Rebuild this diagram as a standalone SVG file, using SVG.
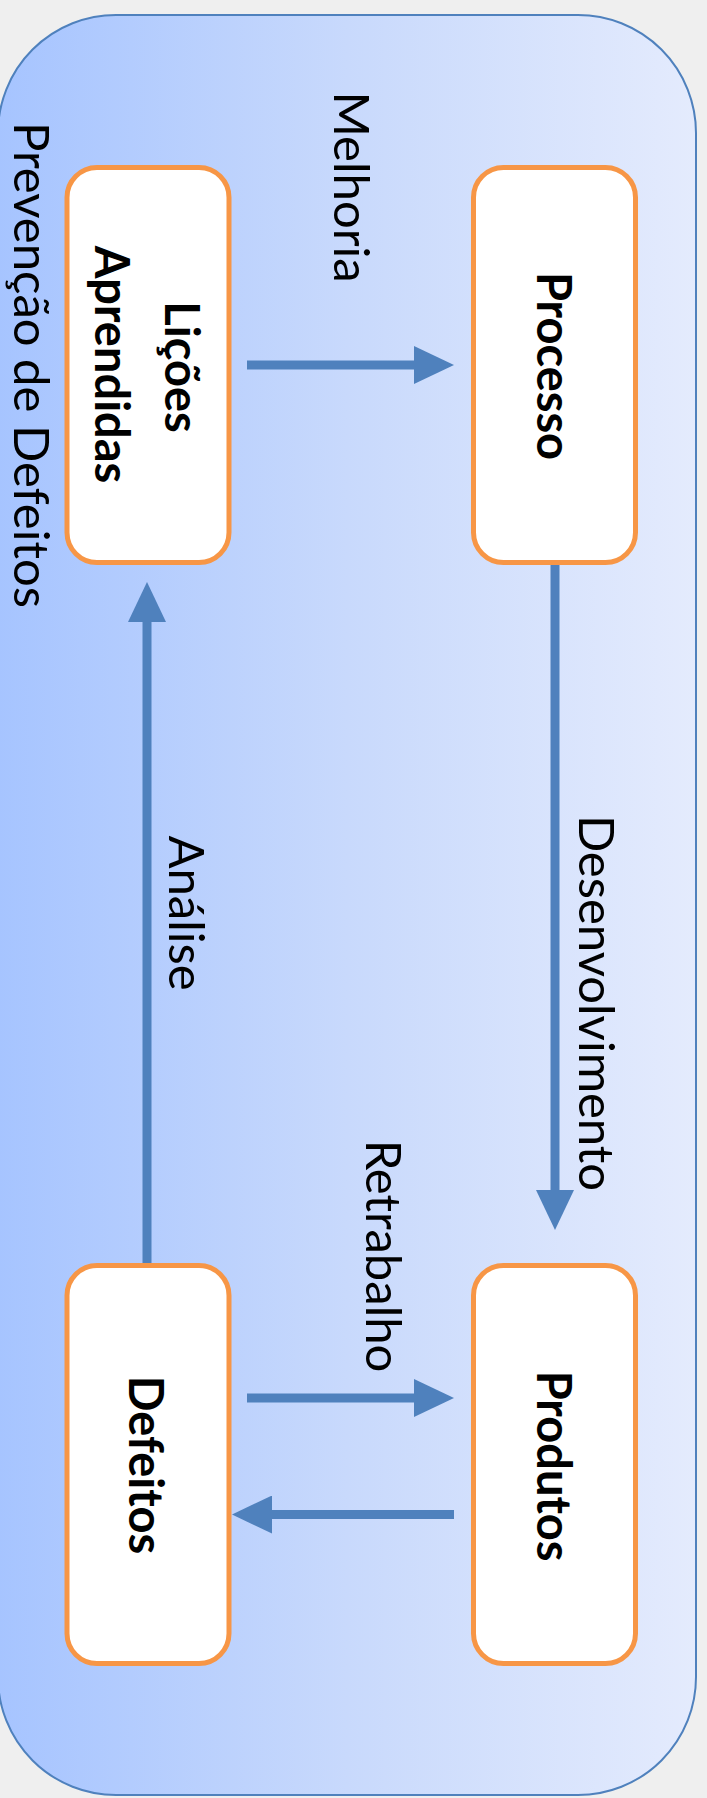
<svg xmlns="http://www.w3.org/2000/svg" width="707" height="1798" viewBox="0 0 707 1798">
  <defs>
    <linearGradient id="bg" x1="0" y1="0" x2="1" y2="0">
      <stop offset="0" stop-color="#a6c4ff"/>
      <stop offset="0.5" stop-color="#c8d9fc"/>
      <stop offset="1" stop-color="#e4ebfd"/>
    </linearGradient>
    <marker id="ah" markerUnits="userSpaceOnUse" viewBox="0 0 40 38" markerWidth="40" markerHeight="38" refX="0" refY="19" orient="auto">
      <path d="M0,0 L40,19 L0,38 Z" fill="#4f81bd"/>
    </marker>
  </defs>
  <style>
    .box { fill: #ffffff; stroke: #f79646; stroke-width: 5; }
    .conn { fill: none; stroke: #4f81bd; stroke-width: 9; marker-end: url(#ah); }
    .lbl { font-family: Lato, "Open Sans", sans-serif; font-size: 49px; fill: #000000; text-anchor: middle; }
    .nlbl { font-family: Lato, "Open Sans", sans-serif; font-size: 47px; font-weight: bold; fill: #000000; text-anchor: middle; }
  </style>
  <rect x="0" y="0" width="707" height="1798" fill="#efefef"/>
  <g id="container">
    <rect x="-2" y="15" width="698" height="1780" rx="118" ry="118" fill="url(#bg)" stroke="#4f81bd" stroke-width="2"/>
    <text class="lbl" transform="translate(14,365) rotate(90)">Prevenção de Defeitos</text>
  </g>
  <g id="connectors">
    <path class="conn" d="M247,365 H414"/>
    <path class="conn" d="M555,565 V1190"/>
    <path class="conn" d="M147,1265 V622"/>
    <path class="conn" d="M247,1398 H414"/>
    <path class="conn" d="M454,1514.5 H272"/>
    <text class="lbl" transform="translate(334,187) rotate(90)">Melhoria</text>
    <text class="lbl" transform="translate(579,1003) rotate(90)">Desenvolvimento</text>
    <text class="lbl" transform="translate(169,913) rotate(90)">Análise</text>
    <text class="lbl" transform="translate(366,1256) rotate(90)">Retrabalho</text>
  </g>
  <g id="licoes">
    <rect class="box" x="67" y="167.5" width="162" height="395" rx="30" ry="30"/>
    <text class="nlbl" transform="translate(164.5,367) rotate(90)">Lições</text>
    <text class="nlbl" transform="translate(95,364.5) rotate(90)">Aprendidas</text>
  </g>
  <g id="processo">
    <rect class="box" x="473.5" y="167.5" width="162" height="395" rx="30" ry="30"/>
    <text class="nlbl" transform="translate(536.5,366) rotate(90)">Processo</text>
  </g>
  <g id="defeitos">
    <rect class="box" x="67" y="1265.5" width="162" height="398" rx="30" ry="30"/>
    <text class="nlbl" transform="translate(128.5,1465) rotate(90)">Defeitos</text>
  </g>
  <g id="produtos">
    <rect class="box" x="473.5" y="1265.5" width="162" height="398" rx="30" ry="30"/>
    <text class="nlbl" transform="translate(536.5,1466) rotate(90)">Produtos</text>
  </g>
</svg>
